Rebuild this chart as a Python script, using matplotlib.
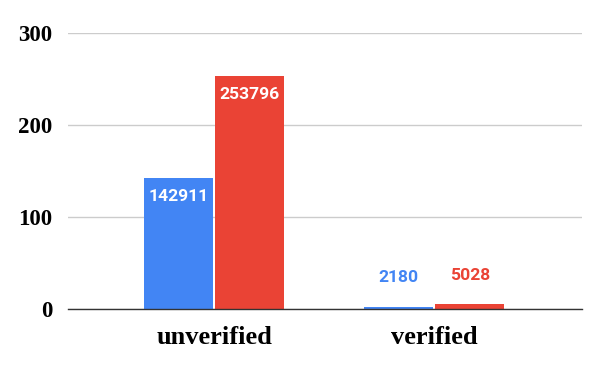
import matplotlib
matplotlib.use("Agg")
import matplotlib.pyplot as plt
import numpy as np

categories = ["unverified", "verified"]
series_a = [142911, 2180]
series_b = [253796, 5028]
yticks = [0, 100, 200, 300]

blue = "#4285F4"
red = "#EA4335"

fig = plt.figure(figsize=(6, 3.71), dpi=100)
ax = fig.add_axes([68/600, 1-309/371, 514/600, 276/371])

x = np.arange(len(categories))
w = 0.314
off = 0.1625
a_k = [v/1000 for v in series_a]
b_k = [v/1000 for v in series_b]
bars_a = ax.bar(x - off, a_k, w, color=blue, zorder=3)
bars_b = ax.bar(x + off, b_k, w, color=red, zorder=3)

ax.set_ylim(0, 300)
ax.set_xlim(-0.664, 1.673)
ax.set_yticks(yticks)
ax.set_yticklabels([str(t) for t in yticks])
ax.set_xticks(x)
ax.set_xticklabels(categories)
ax.grid(axis="y", color="#cccccc", linewidth=1, zorder=0)
for s in ["top", "right", "left"]:
    ax.spines[s].set_visible(False)
ax.spines["bottom"].set_color("#333333")
ax.spines["bottom"].set_linewidth(1)
ax.spines["bottom"].set_zorder(4)
ax.tick_params(axis="both", length=0)
ax.tick_params(axis="y", pad=11)
ax.tick_params(axis="x", pad=12)
for lab in ax.get_yticklabels():
    lab.set_fontfamily("Liberation Serif")
    lab.set_fontweight("bold")
    lab.set_fontsize(16.5)
for lab in ax.get_xticklabels():
    lab.set_fontfamily("Liberation Serif")
    lab.set_fontweight("bold")
    lab.set_fontsize(19)

for bars, vals, col in [(bars_a, series_a, blue), (bars_b, series_b, red)]:
    for b, v in zip(bars, vals):
        h = b.get_height()
        cx = b.get_x() + b.get_width()/2
        if h > 30:
            ax.annotate(str(v), (cx, h), xytext=(0, -19), textcoords="offset pixels",
                        ha="center", va="center", color="white", fontsize=12.6,
                        fontfamily="Roboto", fontweight="bold", zorder=5)
        else:
            ax.annotate(str(v), (cx, h), xytext=(0, 29), textcoords="offset pixels",
                        ha="center", va="center", color=col, fontsize=12.6,
                        fontfamily="Roboto", fontweight="bold", zorder=5)

fig.savefig("out.png", dpi=100)
